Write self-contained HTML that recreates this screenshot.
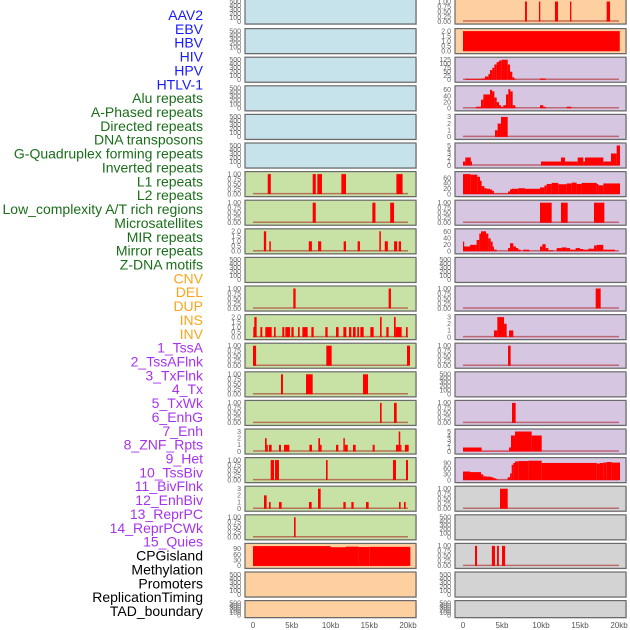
<!DOCTYPE html>
<html><head><meta charset="utf-8"><style>
html,body{margin:0;padding:0;background:#fff;width:630px;height:630px;overflow:hidden}
svg{display:block;font-family:"Liberation Sans",sans-serif}
</style></head><body>
<svg id="chart" width="630" height="630" viewBox="0 0 630 630" xmlns="http://www.w3.org/2000/svg"></svg>
<script>
// ---- track labels ----
const labelNames = ["AAV2","EBV","HBV","HIV","HPV","HTLV-1","Alu repeats","A-Phased repeats","Directed repeats","DNA transposons","G-Quadruplex forming repeats","Inverted repeats","L1 repeats","L2 repeats","Low_complexity A/T rich regions","Microsatellites","MIR repeats","Mirror repeats","Z-DNA motifs","CNV","DEL","DUP","INS","INV","1_TssA","2_TssAFlnk","3_TxFlnk","4_Tx","5_TxWk","6_EnhG","7_Enh","8_ZNF_Rpts","9_Het","10_TssBiv","11_BivFlnk","12_EnhBiv","13_ReprPC","14_ReprPCWk","15_Quies","CPGisland","Methylation","Promoters","ReplicationTiming","TAD_boundary"];
const labelGroups = [6,13,5,15,5];
const groupColors = ["#1a1aff","#1a6e1a","#ffa31a","#a633ee","#000000"];
// ---- axis ticks ----
const xTicks = [0,5,10,15,20];
const xTickLabels = ["0","5kb","10kb","15kb","20kb"];
const tick500 = ["0","100","200","300","400","500"];
const tick1 = ["0.00","0.25","0.50","0.75","1.00"];
const tick2 = ["0.0","0.5","1.0","1.5","2.0"];
const tick3 = ["0","1","2","3"];
const tick60 = ["0","20","40","60"];
const tick90 = ["0","30","60","90"];
const tick125 = ["0","25","50","75","100","125"];
const tick5 = ["0","1","2","3","4","5"];
// ---- series: [startKb, endKb, value] ----
const L6 = [[1.9,2.3,1],[7.7,8.1,1],[8.3,8.9,1],[11.4,12.0,1],[18.5,19.3,1]];
const L7 = [[7.7,8.1,1],[15.4,15.8,1],[17.7,18.2,1]];
const L8 = [[1.4,1.7,2],[2.1,2.3,1],[7.2,7.6,1],[8.4,8.8,1],[11.7,12.0,1],[13.5,13.8,1],[16.3,16.5,2],[17.0,17.4,1],[18.2,18.6,1],[18.8,19.1,1]];
const L10 = [[5.2,5.5,1],[17.5,17.8,1]];
const L11 = [[0.04,0.17,1],[0.17,0.47,2],[0.95,1.2,1],[1.59,2.41,1],[2.71,2.92,1],[3.78,4.04,1],[4.17,4.77,1],[4.95,5.25,1],[5.81,6.02,1],[6.37,7.05,1],[7.53,7.83,1],[9.33,9.63,1],[10.71,11.05,1],[11.66,12.04,1],[12.39,12.69,1],[12.9,13.25,1],[13.46,13.68,1],[13.85,14.28,1],[15.14,15.57,1],[16.39,16.6,2],[17.2,17.5,1],[18.19,18.41,2],[18.41,19.18,1],[19.74,19.96,1]];
const L12 = [[0,0.4,1],[9.46,10.15,1],[19.87,20.26,1]];
const L13 = [[3.61,3.87,1],[6.84,7.7,1],[14.19,14.84,1]];
const L14 = [[16.39,16.6,1],[18.19,18.54,1]];
const L15 = [[1.55,1.76,2],[1.76,1.9,1],[2.06,2.41,1],[3.35,3.61,1],[4.0,4.69,1],[7.27,7.61,1],[8.43,8.65,2],[8.65,8.86,1],[10.71,11.01,1],[11.66,11.85,2],[11.85,12.22,1],[12.9,13.25,1],[15.44,15.7,1],[18.45,18.8,1],[18.8,19.0,3],[19.0,19.15,1],[19.6,20.09,1]];
const L16 = [[2.28,2.71,1],[2.84,3.35,1],[9.42,9.63,1],[18.06,18.45,1],[19.74,20.0,1]];
const L17 = [[1.42,1.76,2],[2.06,2.28,1],[3.35,3.7,1],[7.22,7.57,1],[8.39,8.73,3],[11.66,11.96,1],[12.69,12.99,1],[14.58,14.92,1],[18.84,19.05,1],[19.48,19.7,1]];
const L18 = [[5.29,5.5,1]];
const L19 = [[0,10.0,104],[10.0,12.0,98],[12.0,13.6,101],[13.6,15.0,99],[15.0,20.3,100]];
const R0 = [[7.95,8.2,1],[9.74,9.91,1],[11.79,12.18,1],[13.72,13.89,1],[18.42,18.85,1]];
const R1 = [[0,20.1,2]];
const R2 = [[0.3,2.39,5],[2.39,2.82,8],[2.82,3.25,20],[3.25,3.46,35],[3.46,3.76,60],[3.76,4.02,75],[4.02,4.32,95],[4.32,4.62,110],[4.62,4.96,120],[4.96,5.73,125],[5.73,6.03,95],[6.03,6.32,50],[6.32,6.58,15],[6.58,6.79,5],[9.87,10.6,8]];
const R3 = [[1.67,2.31,5],[2.31,2.61,28],[2.61,2.95,45],[2.95,3.46,45],[3.46,3.72,60],[3.72,4.02,55],[4.02,4.32,35],[4.32,4.62,20],[4.62,4.87,10],[4.87,5.17,5],[5.17,5.51,10],[5.51,5.81,45],[5.81,6.07,62],[6.07,6.37,55],[6.37,6.71,10],[9.87,10.3,10],[10.3,10.6,5],[13.29,13.89,5]];
const R4 = [[4.1,4.44,1],[4.44,4.87,2],[4.87,5.73,3]];
const R5 = [[0,0.3,1],[0.3,1.0,2],[1.0,1.11,1],[10.0,12.56,1],[12.56,13.08,2],[13.08,14.7,1],[14.7,15.43,2],[15.43,15.64,1],[15.64,17.99,2],[17.99,18.97,1],[18.97,19.7,3],[19.7,20.13,5]];
const R6 = [[0,0.98,75],[0.98,1.84,73],[1.84,2.18,65],[2.18,2.39,50],[2.39,2.74,30],[2.74,3.03,22],[3.03,3.46,20],[3.46,3.76,17],[3.76,3.97,12],[3.97,5.77,2],[5.77,6.03,10],[6.03,6.28,18],[6.28,7.09,20],[7.09,7.95,22],[7.95,9.87,20],[9.87,10.43,25],[10.43,10.73,32],[10.73,11.37,38],[11.37,12.22,42],[12.22,13.29,37],[13.29,13.93,40],[13.93,14.57,43],[14.57,15.21,38],[15.21,17.14,42],[17.14,17.35,38],[17.35,17.99,33],[17.99,20.13,40]];
const R7 = [[9.87,11.37,1],[12.56,13.42,1],[16.79,18.12,1]];
const R8 = [[0,0.04,30],[0.04,0.9,15],[0.9,1.75,20],[1.75,2.09,35],[2.09,2.31,55],[2.31,2.95,62],[2.95,3.25,55],[3.25,3.55,40],[3.55,3.8,30],[3.8,3.97,15],[3.97,4.32,5],[5.77,6.03,10],[6.03,6.45,25],[6.45,6.79,15],[6.79,7.09,10],[7.09,7.39,5],[7.69,8.5,5],[9.87,10.17,15],[10.17,10.6,22],[10.6,10.94,10],[10.94,11.58,3],[12.01,12.65,10],[12.65,13.29,12],[13.29,13.72,10],[13.72,14.44,5],[14.44,15.0,10],[15.0,15.43,7],[15.43,16.07,5],[16.07,16.79,8],[16.79,17.14,18],[17.14,17.99,20],[17.99,19.49,5]];
const R10 = [[17.01,17.65,1]];
const R11 = [[3.97,4.4,1],[4.4,5.26,3],[5.26,5.6,2],[5.9,6.45,1]];
const R12 = [[5.77,6.11,1]];
const R14 = [[6.28,6.75,1]];
const R15 = [[0,2.39,1],[2.39,5.9,0.1],[5.9,6.15,1],[6.15,6.67,4],[6.67,8.8,5],[8.8,10.09,4]];
const R16 = [[0,0.9,45],[0.9,2.31,42],[2.31,2.61,30],[2.61,3.03,20],[3.03,3.59,18],[3.59,3.89,15],[3.89,4.19,10],[4.19,4.4,5],[4.4,5.73,1],[5.73,6.03,15],[6.03,6.24,35],[6.24,6.45,80],[6.45,6.67,90],[6.67,7.09,98],[7.09,8.38,100],[8.38,10.09,102],[10.09,17.14,90],[17.14,17.56,87],[17.56,17.99,90],[17.99,18.42,92],[18.42,19.06,95],[19.06,20.13,92]];
const R17 = [[4.74,5.73,1]];
const R19 = [[1.54,1.8,1],[3.7,4.1,1],[4.36,4.6,1],[5.0,5.4,1]];

const leftTracks = [[null,tick500,500],[null,tick500,500],[null,tick500,500],[null,tick500,500],[null,tick500,500],[null,tick500,500],[L6,tick1,1],[L7,tick1,1],[L8,tick2,2],[null,tick500,500],[L10,tick1,1],[L11,tick2,2],[L12,tick1,1],[L13,tick1,1],[L14,tick1,1],[L15,tick3,3],[L16,tick1,1],[L17,tick3,3],[L18,tick1,1],[L19,tick90,105],[null,tick500,500],[null,tick500,500]];
const rightTracks = [[R0,tick1,1],[R1,tick2,2],[R2,tick125,125],[R3,tick60,65],[R4,tick3,3],[R5,tick5,5],[R6,tick60,75],[R7,tick1,1],[R8,tick60,62],[null,tick500,500],[R10,tick1,1],[R11,tick3,3],[R12,tick1,1],[null,tick500,500],[R14,tick1,1],[R15,tick5,5],[R16,tick90,105],[R17,tick1,1],[null,tick500,500],[R19,tick1,1],[null,tick500,500],[null,tick500,500]];
const leftColors = ["#c6e2ea","#c6e2ea","#c6e2ea","#c6e2ea","#c6e2ea","#c6e2ea","#c8e2a6","#c8e2a6","#c8e2a6","#c8e2a6","#c8e2a6","#c8e2a6","#c8e2a6","#c8e2a6","#c8e2a6","#c8e2a6","#c8e2a6","#c8e2a6","#c8e2a6","#fecf9f","#fecf9f","#fecf9f"];
const rightColors = ["#fecf9f","#fecf9f","#d6c6e2","#d6c6e2","#d6c6e2","#d6c6e2","#d6c6e2","#d6c6e2","#d6c6e2","#d6c6e2","#d6c6e2","#d6c6e2","#d6c6e2","#d6c6e2","#d6c6e2","#d6c6e2","#d6c6e2","#d3d3d3","#d3d3d3","#d3d3d3","#d3d3d3","#d3d3d3"];

const NS = "http://www.w3.org/2000/svg";
const svg = document.getElementById("chart");
function mk(tag, attrs, parent){const e=document.createElementNS(NS,tag);for(const k in attrs)e.setAttribute(k,attrs[k]);(parent||svg).appendChild(e);return e;}

// labels
let li=0;
labelGroups.forEach((n,g)=>{for(let j=0;j<n;j++){const t=mk("text",{x:203,y:20+li*13.86,"text-anchor":"end","font-size":"14",fill:groupColors[g]});


t.textContent=labelNames[li];li++;}});

function xScale(col,kb){return col===0?253+kb*7.75:463+kb*7.8;}
function drawCol(col,tracks,colors){
  const px0 = col===0?245:455, pw=171;
  const tickX = col===0?241:451;
  tracks.forEach((tr,i)=>{
    const top = 28.6*i - (i===0?1:0);
    const h = i===21?17:25;
    const g = mk("g",{});
    
    
    mk("rect",{x:px0+1,y:top+1,width:pw,height:h,fill:"#bbb",opacity:0.5},g);
    mk("rect",{x:px0,y:top,width:pw,height:h,fill:colors[i],stroke:"#6a6a6a","stroke-width":1.2},g);
    const yZero = top+h-2.5, yMax = top+2.5;
    const ys = v=>yZero-(v/tr[2])*(yZero-yMax);
    const ticks = tr[1];
    ticks.forEach(lbl=>{
      const v=parseFloat(lbl);
      const t=mk("text",{x:tickX,y:ys(v)+2.3,"text-anchor":"end","font-size":"7",fill:"#666"},g);
      
      
      t.textContent=lbl;
    });
    if(tr[0]){
      mk("line",{x1:xScale(col,0),x2:xScale(col,20),y1:yZero-0.5,y2:yZero-0.5,stroke:"rgba(170,40,40,0.6)","stroke-width":1.5},g);
      tr[0].forEach(s=>{
        const x1=xScale(col,s[0]),x2=xScale(col,s[1]);
        const r=mk("rect",{x:x1,y:ys(s[2]),width:Math.max(1.2,x2-x1),height:yZero-ys(s[2]),fill:"#ff0000"},g);
        
        
      });
    }
  });
  xTicks.forEach((k,j)=>{
    const t=mk("text",{x:xScale(col,k),y:628,"text-anchor":"middle","font-size":"8",fill:"#555"});
    
    
    t.textContent=xTickLabels[j];
  });
}
drawCol(0,leftTracks,leftColors);
drawCol(1,rightTracks,rightColors);
</script>
</body></html>
